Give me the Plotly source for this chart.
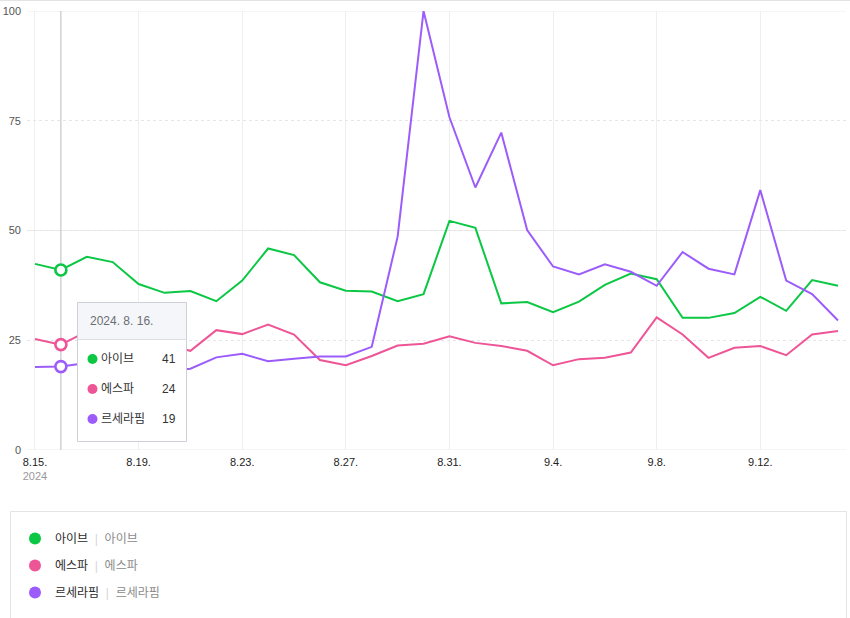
import pandas as pd
import plotly.graph_objects as go

# ---------------- data ----------------
dates = pd.date_range("2024-08-15", "2024-09-15", freq="D")
names = ["아이브", "에스파", "르세라핌"]
colors = ["#0bc744", "#ee5597", "#9c5cfb"]

ive = [42.4, 41, 44.0, 42.8, 37.8, 35.8, 36.2, 33.9, 38.6, 45.9, 44.4, 38.2, 36.3, 36.1, 33.9, 35.5, 52.2,
       50.6, 33.4, 33.7, 31.4, 33.8, 37.6, 40.2, 38.9, 30.1, 30.1, 31.2, 34.9, 31.7, 38.7, 37.4]
aespa = [25.3, 24, 27, 26, 25, 24, 22.6, 27.3, 26.4, 28.6, 26.3, 20.5, 19.3, 21.4, 23.8, 24.2, 25.9,
         24.4, 23.7, 22.6, 19.3, 20.7, 21.0, 22.2, 30.2, 26.3, 21.0, 23.3, 23.7, 21.6, 26.3, 27.1]
lsf = [18.9, 19, 19.8, 19.5, 19, 18, 18.5, 21.1, 21.9, 20.2, 20.8, 21.3, 21.3, 23.5, 48.6, 100, 75.8,
       59.8, 72.3, 50.1, 41.8, 40.0, 42.3, 40.6, 37.4, 45.1, 41.3, 40.0, 59.2, 38.6, 35.5, 29.5]
series = [ive, aespa, lsf]

ytick_vals = [0, 25, 50, 75, 100]
xtick_idx = list(range(0, len(dates), 4))
hover_idx = 1  # highlighted day (2024-08-16)

# ---------------- geometry helpers (decoration only) ----------------
W, H = 850, 618
ML, MR, MT, MB = 27, 4, 11, 168
PW, PH = W - ML - MR, H - MT - MB


def px(x):
    return (x - ML) / PW


def py(y):
    return (H - MB - y) / PH


fig = go.Figure()

for nm, col, vals in zip(names, colors, series):
    fig.add_trace(go.Scatter(x=dates, y=vals, mode="lines", name=nm,
                             line=dict(color=col, width=2), showlegend=False,
                             hoverinfo="skip"))

# highlighted markers
for nm, col, vals in zip(names, colors, series):
    fig.add_trace(go.Scatter(x=[dates[hover_idx]], y=[vals[hover_idx]], mode="markers",
                             marker=dict(size=11, color="white", line=dict(color=col, width=2.6)),
                             showlegend=False, hoverinfo="skip"))

# legend entries
SEP = "&nbsp;&nbsp;<span style='color:#d6d6d6'>|</span>&nbsp;&nbsp;"
for i, (nm, col) in enumerate(zip(names, colors)):
    fig.add_trace(go.Scatter(x=[None], y=[None], mode="markers",
                             marker=dict(size=12, color=col),
                             name=f"{nm}{SEP}<span style='color:#8a8a8a'>{nm}</span>",
                             legendgroup=f"g{i}", showlegend=True))

# solid grid lines at 0/50/100, others dotted
for v in ytick_vals:
    if v % 50 == 0:
        fig.add_hline(y=v, line=dict(color="#ebebeb", width=1), layer="below")

# crosshair
fig.add_shape(type="line", xref="x", yref="paper", x0=dates[hover_idx], x1=dates[hover_idx],
              y0=0, y1=1, line=dict(color="#b8bcc6", width=1), layer="below")

# top border
fig.add_shape(type="line", xref="paper", yref="paper", x0=px(0), x1=px(W), y0=py(0.5), y1=py(0.5),
              line=dict(color="#e3e3e3", width=1))

# legend box
fig.add_shape(type="rect", xref="paper", yref="paper", x0=px(10.5), x1=px(846.5), y0=py(511.5), y1=py(640),
              line=dict(color="#e4e4e4", width=1), fillcolor="rgba(0,0,0,0)")

# tooltip box
tx0, tx1, ty0, ty1, thead = 77.5, 186.5, 302.5, 441.5, 339.5
fig.add_shape(type="rect", xref="paper", yref="paper", x0=px(tx0), x1=px(tx1), y0=py(ty0), y1=py(ty1),
              line=dict(color="#cdd0d6", width=1), fillcolor="white", layer="above")
fig.add_shape(type="rect", xref="paper", yref="paper", x0=px(tx0 + 0.5), x1=px(tx1 - 0.5), y0=py(ty0 + 0.5),
              y1=py(thead), line=dict(width=0), fillcolor="#f5f6f9", layer="above")
fig.add_shape(type="line", xref="paper", yref="paper", x0=px(tx0), x1=px(tx1), y0=py(thead), y1=py(thead),
              line=dict(color="#dcdee3", width=1), layer="above")

d = dates[hover_idx]
fig.add_annotation(xref="paper", yref="paper", x=px(88), y=py(320.5), xanchor="left", yanchor="middle",
                   text=f"{d.year}. {d.month}. {d.day}.", showarrow=False,
                   font=dict(size=12, color="#6b6e75"))
row_y = [359, 389, 419]
for ry, nm, col, vals in zip(row_y, names, colors, series):
    fig.add_shape(type="circle", xref="paper", yref="paper", x0=px(87.5), x1=px(97.5),
                  y0=py(ry - 5), y1=py(ry + 5), line=dict(width=0), fillcolor=col, layer="above")
    fig.add_annotation(xref="paper", yref="paper", x=px(99), y=py(ry), xanchor="left", yanchor="middle",
                       text=nm, showarrow=False, font=dict(size=12, color="#333333"))
    fig.add_annotation(xref="paper", yref="paper", x=px(178), y=py(ry), xanchor="right", yanchor="middle",
                       text=f"{round(vals[hover_idx])}", showarrow=False,
                       font=dict(size=12, color="#333333"))

# x tick labels
ticktext = []
for k, i in enumerate(xtick_idx):
    t = f"{dates[i].month}.{dates[i].day}."
    if k == 0:
        t += f"<br><span style='color:#999999'>{dates[i].year}</span>"
    ticktext.append(t)

pad = pd.Timedelta(hours=7.4)
fig.update_layout(
    width=W, height=H,
    margin=dict(l=ML, r=MR, t=MT, b=MB),
    paper_bgcolor="white", plot_bgcolor="white",
    font=dict(family="Liberation Sans, Noto Sans CJK KR, sans-serif", size=11, color="#333333"),
    xaxis=dict(type="date", range=[dates[0] - pad, dates[-1] + pad],
               tickvals=[dates[i] for i in xtick_idx], ticktext=ticktext,
               showgrid=True, gridcolor="#efefef", gridwidth=1, zeroline=False,
               showline=False, ticks="", ticklabelstandoff=4,
               tickfont=dict(size=11, color="#222222")),
    yaxis=dict(range=[0, 100], tickvals=ytick_vals, showgrid=True, gridcolor="#e6e6e6",
               griddash="dot", zeroline=False, showline=False, ticks="",
               ticklabelstandoff=5, tickfont=dict(size=11, color="#555555")),
    legend=dict(x=px(15), y=py(524), xanchor="left", yanchor="top", orientation="v",
                tracegroupgap=8, font=dict(size=12, color="#2a2a2a"),
                bgcolor="rgba(0,0,0,0)", itemclick=False),
    showlegend=True,
)

fig.write_html("out.html")
